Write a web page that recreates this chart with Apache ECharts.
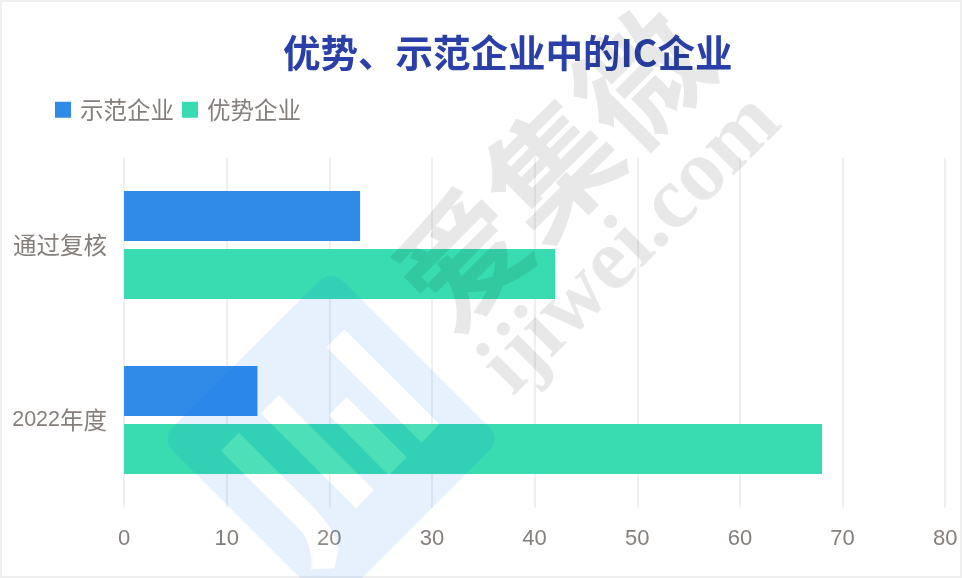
<!DOCTYPE html>
<html><head><meta charset="utf-8">
<style>html,body{margin:0;padding:0;background:#fff}#c{width:962px;height:578px}</style>
<script src="https://cdn.jsdelivr.net/npm/echarts@6/dist/echarts.min.js"></script>
</head><body><div id="c"></div>
<script>
const titleText = '优势、示范企业中的IC企业';
const categories = ['通过复核', '2022年度'];
const seriesNames = ['示范企业', '优势企业'];
const demoValues = [23, 13];
const advValues = [42, 68];
const xTicks = {min: 0, max: 80, interval: 10};
const CJK = '"Noto Sans CJK SC"';
const TEXT = '#857f7c';

const diamond = 'M318,282 Q331,269 344,282 L488,426 Q501,439 488,452 L344,596 Q331,609 318,596 L174,452 Q161,439 174,426 Z';
const holes = 'M344.3,329.3 L326.7,347.3 L421.7,442.7 L439.3,424 Z ' +
  'M346.7,397 L329,415 L388.7,475.3 L406.7,457.3 Z ' +
  'M279,395 L260.7,413.3 L356,508.3 L374,490 Z ' +
  'M239,432.7 L221,450.7 L303,533 Q314,553 311,569.3 L334.3,568.3 L338.3,550 Q338,535 316,510 Z';
echarts.graphic.registerShape('logoBody', echarts.graphic.extendPath(diamond + ' ' + holes, {}));
echarts.graphic.registerShape('logoHoles', echarts.graphic.extendPath(holes, {}));

const chart = echarts.init(document.getElementById('c'), null, {renderer: 'canvas'});
chart.setOption({
  animation: false,
  backgroundColor: '#fff',
  title: {text: titleText, left: 278, top: 25,
    textStyle: {fontFamily: CJK, fontSize: 37.5, fontWeight: 'bold', color: '#2a40a8', lineHeight: 46}},
  legend: {left: 50, top: 93, itemWidth: 16, itemHeight: 16, itemGap: 8, icon: 'rect',
    data: seriesNames,
    textStyle: {fontFamily: CJK, fontSize: 23.5, color: TEXT, padding: [0, 0, 0, 4]}},
  grid: {left: 124, right: 16.8, top: 157.5, bottom: 70.5, containLabel: false},
  xAxis: {type: 'value', position: 'bottom', min: xTicks.min, max: xTicks.max, interval: xTicks.interval,
    axisLine: {show: false}, axisTick: {show: false},
    splitLine: {show: true, lineStyle: {color: '#f0f0f0', width: 2}},
    axisLabel: {margin: 20, fontFamily: '"Liberation Sans"', fontSize: 22, color: TEXT}},
  yAxis: {type: 'category', inverse: true, data: categories,
    axisLine: {show: false}, axisTick: {show: false},
    axisLabel: {margin: 17, align: 'right',
      formatter: v => {
        const m = v.match(/^(\d*)(.*)$/);
        return (m[1] ? '{d|' + m[1] + '}' : '') + '{c|' + m[2] + '}';
      },
      rich: {d: {fontFamily: '"Liberation Sans"', fontSize: 21.5, color: TEXT},
             c: {fontFamily: CJK, fontSize: 23.5, color: TEXT}}}},
  series: [
    {name: seriesNames[0], type: 'bar', data: demoValues, barWidth: 50, barGap: '16%', itemStyle: {color: '#308ae8'}},
    {name: seriesNames[1], type: 'bar', data: advValues, barWidth: 50, barGap: '16%', itemStyle: {color: '#38dcb0'}}
  ],
  graphic: [
    {type: 'rect', silent: true, z: 50, shape: {x: 1, y: 1, width: 960, height: 576},
      style: {fill: 'transparent', stroke: '#efefef', lineWidth: 2}},
    {type: 'logoBody', silent: true, z: 60, style: {fill: 'rgba(0,110,240,0.095)'}},
    {type: 'logoHoles', silent: true, z: 60, style: {fill: 'rgba(255,255,255,0.1)'}},
    {type: 'text', silent: true, z: 61, x: 552, y: 168, rotation: Math.PI / 4,
      style: {text: '爱集微', fontFamily: CJK, fontWeight: 'bold', fontSize: 127, fill: 'rgba(0,0,0,0.09)', align: 'center', verticalAlign: 'middle'}},
    {type: 'text', silent: true, z: 61, x: 632, y: 245, rotation: Math.PI / 4,
      style: {text: 'ijiwei.com', fontFamily: '"Liberation Serif"', fontWeight: 'bold', fontSize: 88, fill: 'rgba(0,0,0,0.09)', align: 'center', verticalAlign: 'middle'}}
  ]
});
</script></body></html>
